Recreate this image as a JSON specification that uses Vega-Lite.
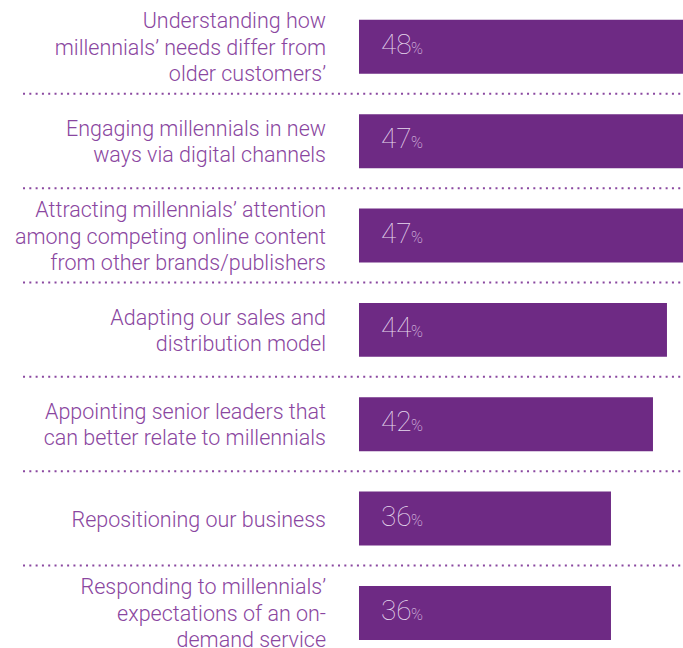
{
  "$schema": "https://vega.github.io/schema/vega-lite/v6.json",
  "autosize": {"type": "none"},
  "width": 683,
  "height": 648,
  "padding": 0,
  "background": "white",
  "config": {"view": {"stroke": null}},
  "data": {"values": [
    {"label": "Understanding how\nmillennials’ needs differ from\nolder customers’", "value": 48, "sep": true},
    {"label": "Engaging millennials in new\nways via digital channels", "value": 47, "sep": true},
    {"label": "Attracting millennials’ attention\namong competing online content\nfrom other brands/publishers", "value": 47, "sep": true},
    {"label": "Adapting our sales and\ndistribution model", "value": 44, "sep": true},
    {"label": "Appointing senior leaders that\ncan better relate to millennials", "value": 42, "sep": true},
    {"label": "Repositioning our business", "value": 36, "sep": true},
    {"label": "Responding to millennials’\nexpectations of an on-\ndemand service", "value": 36, "sep": false}
  ]},
  "encoding": {
    "y": {"field": "label", "type": "nominal", "sort": null, "axis": null,
      "scale": {"paddingInner": 0.428, "paddingOuter": 0.148, "align": 0.71, "round": false}}
  },
  "layer": [
    {
      "transform": [{"filter": "datum.sep"}],
      "mark": {"type": "rule", "color": "#8A48A0", "strokeWidth": 2, "strokeDash": [2, 4.3], "yOffset": 20},
      "encoding": {
        "y": {"field": "label", "type": "nominal", "sort": null, "bandPosition": 1},
        "x": {"datum": -48, "type": "quantitative", "scale": {"domain": [-51.29, 46.29], "zero": false, "nice": false}, "axis": null},
        "x2": {"datum": 46.29}
      }
    },
    {
      "mark": {"type": "bar", "color": "#6E2A84", "clip": true},
      "encoding": {
        "x": {"field": "value", "type": "quantitative", "axis": null},
        "x2": {"datum": 0}
      }
    },
    {
      "mark": {"type": "text", "align": "right", "baseline": "middle", "dx": -33,
        "dy": {"expr": "2 - (length(split(datum.label, '\\n')) - 1) * 13.25"},
        "lineBreak": "\n", "lineHeight": 26.5, "font": "Roboto", "fontWeight": 300, "fontSize": 21.5, "color": "#8A46A0"},
      "encoding": {
        "x": {"datum": 0, "type": "quantitative"},
        "text": {"field": "label"}
      }
    },
    {
      "mark": {"type": "text", "align": "left", "baseline": "alphabetic", "dx": 22, "dy": 7, "font": "Roboto", "fontWeight": 100, "fontSize": 28, "color": "#E6D9EE"},
      "encoding": {
        "x": {"datum": 0, "type": "quantitative"},
        "text": {"field": "value"}
      }
    },
    {
      "mark": {"type": "text", "align": "left", "baseline": "alphabetic", "dx": 52, "dy": 7, "font": "Roboto", "fontWeight": 100, "fontSize": 16, "color": "#E6D9EE", "text": "%"},
      "encoding": {
        "x": {"datum": 0, "type": "quantitative"}
      }
    }
  ]
}
